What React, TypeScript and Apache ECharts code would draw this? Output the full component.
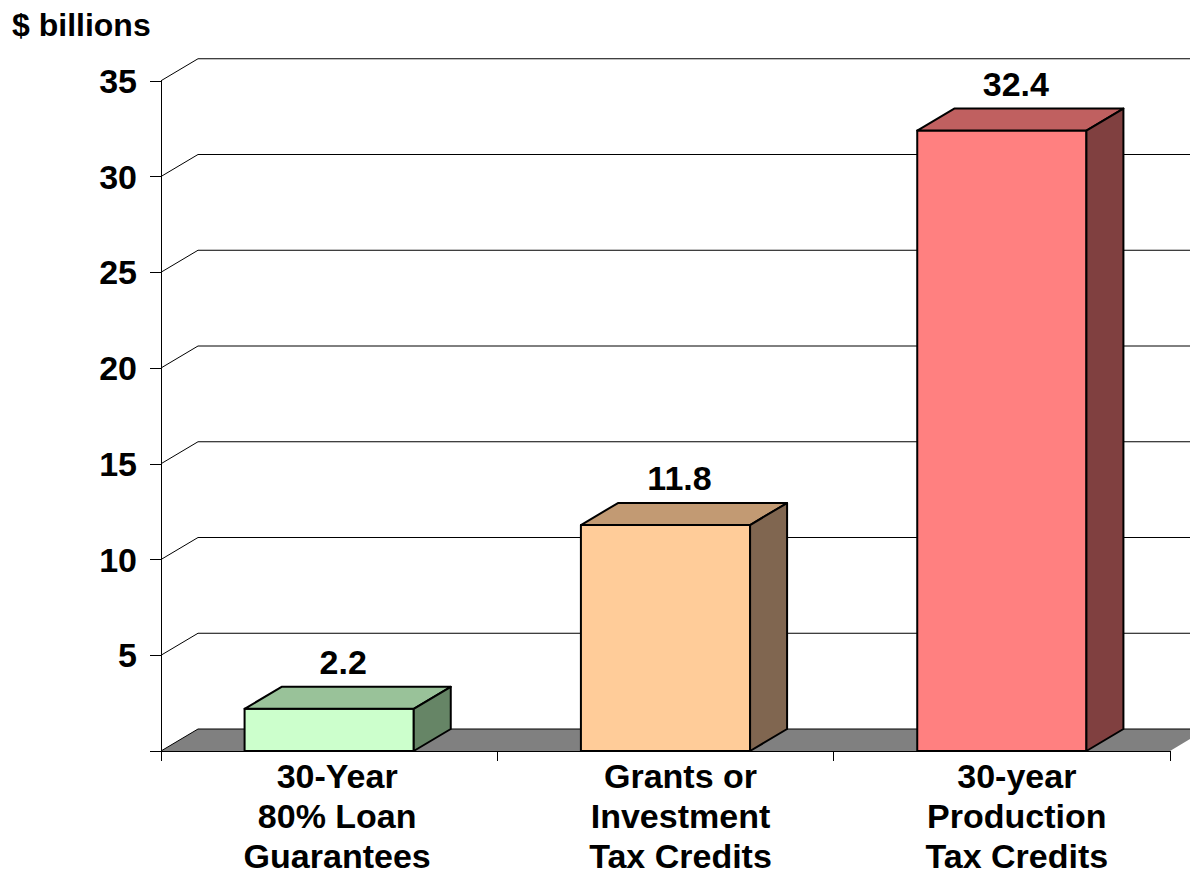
import React, { useEffect, useRef } from "react";
import * as echarts from "echarts";

const categories = [
  "30-Year\n80% Loan\nGuarantees",
  "Grants or\nInvestment\nTax Credits",
  "30-year\nProduction\nTax Credits",
];
const values = [2.2, 11.8, 32.4];
const yMin = 0;
const yMax = 35;
const yInterval = 5;
const yTickValues = [0, 5, 10, 15, 20, 25, 30, 35];
const unitLabel = "$ billions";

const frontColors = ["#CCFFCC", "#FFCC99", "#FF8080"];
const topColors = ["#99C299", "#C29A73", "#C06060"];
const sideColors = ["#668566", "#806650", "#804040"];

const FONT = "'Liberation Sans', Arial, Helvetica, sans-serif";
const DX = 37;
const DY = -22;

export default function App() {
  const ref = useRef<HTMLDivElement>(null);

  useEffect(() => {
    if (!ref.current) return;
    const chart = echarts.init(ref.current, null, { renderer: "svg" });

    const wallRender = (params: any, api: any) => {
      const v = api.value(1);
      const cs = params.coordSys;
      const left = cs.x;
      const right = cs.x + cs.width;
      const y = api.coord([0, v])[1];
      const children: any[] = [];
      if (v === 0) {
        children.push({
          type: "polygon",
          shape: {
            points: [
              [left, y],
              [right, y],
              [right + DX, y + DY],
              [left + DX, y + DY],
            ],
          },
          style: { fill: "#808080", stroke: "none" },
        });
      }
      children.push({
        type: "polyline",
        shape: {
          points: [
            [left, y],
            [left + DX, y + DY],
            [right + DX + 60, y + DY],
          ],
        },
        style: { stroke: "#000", lineWidth: 1, fill: "none" },
      });
      return { type: "group", children };
    };

    const barRender = (params: any, api: any) => {
      const i = api.value(0);
      const v = api.value(1);
      const top = api.coord([i, v]);
      const bot = api.coord([i, 0]);
      const bw = api.size([1, 0])[0] * 0.503;
      const cx = top[0];
      const yT = top[1];
      const yB = bot[1];
      const x0 = cx - bw / 2;
      const x1 = cx + bw / 2;
      const edge = { stroke: "#000", lineWidth: 2, lineJoin: "round" };
      return {
        type: "group",
        children: [
          {
            type: "polygon",
            shape: { points: [[x0, yT], [x1, yT], [x1, yB], [x0, yB]] },
            style: { fill: frontColors[i], ...edge },
          },
          {
            type: "polygon",
            shape: {
              points: [
                [x0, yT],
                [x0 + DX, yT + DY],
                [x1 + DX, yT + DY],
                [x1, yT],
              ],
            },
            style: { fill: topColors[i], ...edge },
          },
          {
            type: "polygon",
            shape: {
              points: [
                [x1, yT],
                [x1 + DX, yT + DY],
                [x1 + DX, yB + DY],
                [x1, yB],
              ],
            },
            style: { fill: sideColors[i], ...edge },
          },
          {
            type: "text",
            x: cx + 14,
            y: yT + DY - 25,
            style: {
              text: String(v),
              fill: "#000",
              font: `bold 34px ${FONT}`,
              textAlign: "center",
              textVerticalAlign: "middle",
            },
          },
        ],
      };
    };

    chart.setOption({
      animation: false,
      backgroundColor: "#fff",
      grid: {
        left: 161,
        width: 1009,
        top: 80.75,
        height: 670.25,
        containLabel: false,
        outerBoundsMode: "none",
      },
      graphic: [
        {
          type: "text",
          left: 12,
          top: 9,
          style: {
            text: unitLabel,
            fill: "#000",
            font: `bold 32px ${FONT}`,
          },
        },
      ],
      xAxis: {
        type: "category",
        data: categories.map((c, i) =>
          i === 0
            ? { value: c, textStyle: { padding: [0, 0, 0, 16] } }
            : { value: c }
        ),
        z: 5,
        axisLine: { show: true, lineStyle: { color: "#000", width: 1 } },
        axisTick: { show: true, length: 10, lineStyle: { color: "#000" } },
        axisLabel: {
          color: "#000",
          fontFamily: FONT,
          fontWeight: "bold",
          fontSize: 34,
          lineHeight: 40,
          margin: 5,
          padding: [0, 0, 0, 30],
          hideOverlap: false,
        },
        splitLine: { show: false },
      },
      yAxis: {
        type: "value",
        min: yMin,
        max: yMax,
        interval: yInterval,
        z: 5,
        axisLine: { show: true, lineStyle: { color: "#000", width: 1 } },
        axisTick: { show: true, length: 11, lineStyle: { color: "#000" } },
        axisLabel: {
          color: "#000",
          fontFamily: FONT,
          fontWeight: "bold",
          fontSize: 34,
          margin: 24,
          padding: [15, 0, 0, 0],
          formatter: (v: number) => (v === 0 ? "" : String(v)),
        },
        splitLine: { show: false },
      },
      series: [
        {
          type: "custom",
          z: 1,
          renderItem: wallRender,
          encode: { x: 0, y: 1 },
          data: yTickValues.map((v) => [0, v]),
          silent: true,
        },
        {
          type: "custom",
          z: 3,
          renderItem: barRender,
          encode: { x: 0, y: 1 },
          data: values.map((v, i) => [i, v]),
          silent: true,
        },
      ],
    });

    return () => chart.dispose();
  }, []);

  return (
    <div
      ref={ref}
      style={{ position: "fixed", left: 0, top: 0, width: 1190, height: 876 }}
    />
  );
}
